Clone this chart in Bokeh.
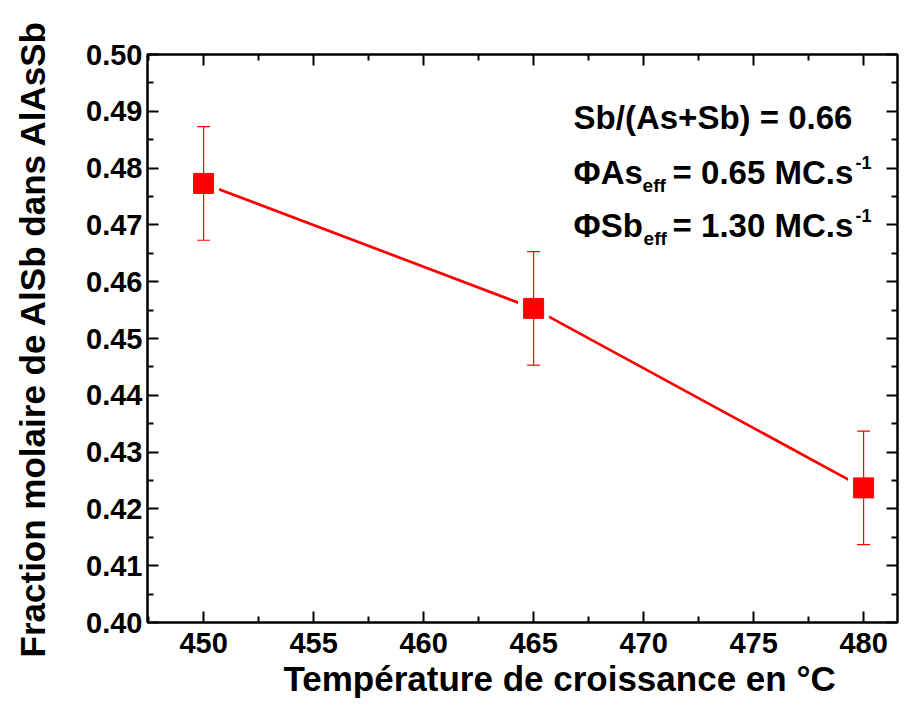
from bokeh.plotting import figure
from bokeh.models import LinearAxis, FixedTicker, PrintfTickFormatter, CustomJSTickFormatter, Label, ColumnDataSource, Range1d, Title
from bokeh.embed import file_html
from bokeh.resources import INLINE

# ---- data ----
temperature = [450, 465, 480]
fraction = [0.4773, 0.4553, 0.4237]
error = [0.0100, 0.0100, 0.0100]

x_ticks = [450, 455, 460, 465, 470, 475, 480]
x_minor = [447.5, 452.5, 457.5, 462.5, 467.5, 472.5, 477.5, 482.5]
y_ticks = [0.40, 0.41, 0.42, 0.43, 0.44, 0.45, 0.46, 0.47, 0.48, 0.49, 0.50]
y_minor = [0.405, 0.415, 0.425, 0.435, 0.445, 0.455, 0.465, 0.475, 0.485, 0.495]

x_title = "Température de croissance en °C"
y_title = "Fraction molaire de AlSb dans AlAsSb"

FONT = "Liberation Sans"
RED = "#ff0000"

upper = [f + e for f, e in zip(fraction, error)]
lower = [f - e for f, e in zip(fraction, error)]
src = ColumnDataSource(dict(x=temperature, y=fraction, up=upper, lo=lower))

p = figure(width=900, height=700, output_backend="svg", toolbar_location=None,
           x_range=Range1d(447.45, 481.54), y_range=Range1d(0.40, 0.50),
           min_border_left=147, min_border_right=3, min_border_top=54, min_border_bottom=78,
           y_axis_label=y_title)
p.xgrid.visible = False
p.ygrid.visible = False
p.outline_line_color = "black"
p.outline_line_width = 2
p.background_fill_color = "white"
p.border_fill_color = "white"

bottom = p.below[0]
left = p.left[0]

xt = FixedTicker(ticks=x_ticks, minor_ticks=x_minor)
yt = FixedTicker(ticks=y_ticks, minor_ticks=y_minor)
bottom.ticker = xt
left.ticker = yt
left.formatter = PrintfTickFormatter(format="%.2f")

blank = CustomJSTickFormatter(code="return ''")
top = LinearAxis(ticker=xt, formatter=blank)
right = LinearAxis(ticker=yt, formatter=blank)
p.add_layout(top, "above")
p.add_layout(right, "right")

for ax in [bottom, left, top, right]:
    ax.axis_line_width = 2
    ax.major_tick_line_width = 2
    ax.minor_tick_line_width = 2
    ax.major_tick_in = 11
    ax.major_tick_out = 0
    ax.minor_tick_in = 6
    ax.minor_tick_out = 0
    ax.major_label_text_font = FONT
    ax.major_label_text_font_style = "bold"
    ax.major_label_text_font_size = "29px"
    ax.major_label_text_color = "black"
    ax.axis_label_text_font = FONT
    ax.axis_label_text_font_style = "bold"
    ax.axis_label_text_font_size = "35px"
    ax.axis_label_text_color = "black"

for ax in [top, right]:
    ax.major_label_standoff = 0

bottom.major_label_standoff = 10
left.major_label_standoff = 5
left.axis_label_standoff = 31

# x-axis title, placed below the axis, shifted right as in the reference
xt_title = Title(text=x_title, align="left", offset=136, standoff=2,
                 text_font=FONT, text_font_style="bold", text_font_size="35px",
                 text_color="black")
p.add_layout(xt_title, "below")

# connecting line, with white halo squares to open gaps near markers
p.line("x", "y", source=src, line_color=RED, line_width=2.7)
p.scatter("x", "y", source=src, marker="square", size=31, fill_color="white", line_color=None)
# error bars
p.segment("x", "lo", "x", "up", source=src, line_color=RED, line_width=1.2)
p.scatter("x", "up", source=src, marker="dash", size=13, line_color=RED, line_width=1.2)
p.scatter("x", "lo", source=src, marker="dash", size=13, line_color=RED, line_width=1.2)
# markers
p.scatter("x", "y", source=src, marker="square", size=20, fill_color=RED, line_color=RED)

# annotation text (positions in data space)
def px2x(px):
    return 450 + (px - 203) / 22.0

def py2y(py):
    return 0.50 - (py - 54) / 5680.0

def lab(txt, px, py, size):
    p.add_layout(Label(x=px2x(px), y=py2y(py), text=txt, text_font=FONT, text_font_style="bold",
                       text_font_size=size, text_color="black", text_baseline="alphabetic",
                       text_align="left"))

lab("Sb/(As+Sb) = 0.66", 573, 117, "33px")
lab("ΦAs", 573, 172, "33px")
lab("eff", 642, 185, "19px")
lab("= 0.65 MC.s", 672, 172, "33px")
lab("-1", 855, 162, "18px")
lab("ΦSb", 573, 225, "33px")
lab("eff", 643, 238, "19px")
lab("= 1.30 MC.s", 672, 225, "33px")
lab("-1", 855, 215, "18px")

open("out.html", "w").write(file_html(p, INLINE))
